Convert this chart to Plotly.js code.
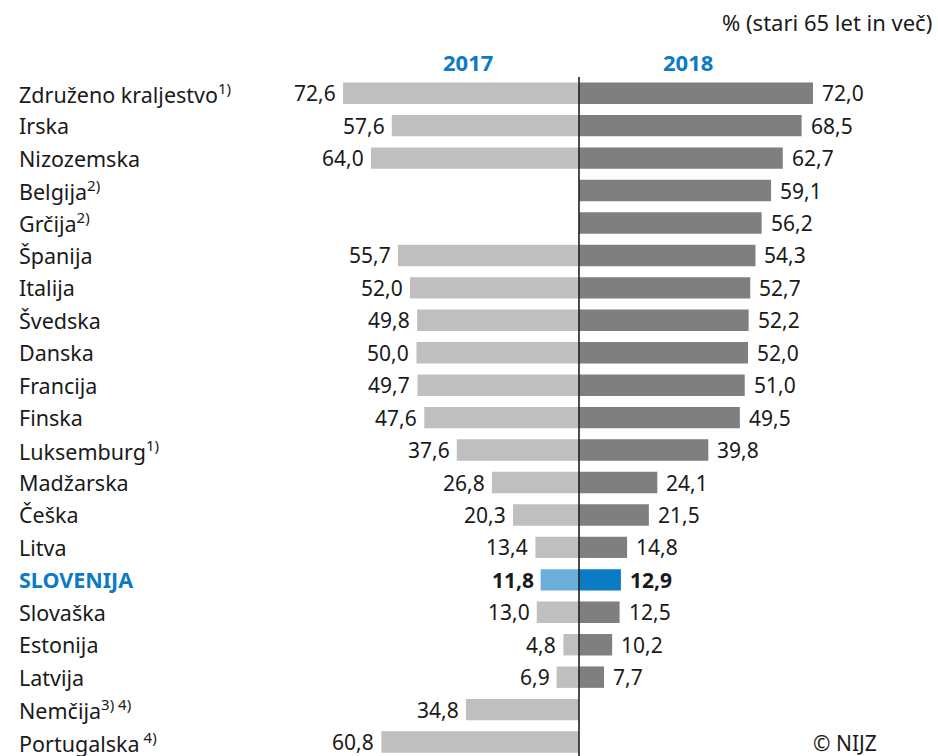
<!DOCTYPE html>
<html>
<head>
<meta charset="utf-8">
<script src="https://cdn.plot.ly/plotly-3.0.1.min.js"></script>
<style>html,body{margin:0;padding:0;background:#fff;}#chart{width:938px;height:756px;}</style>
</head>
<body>
<div id="chart"></div>
<script>
const categories = ["Združeno kraljestvo","Irska","Nizozemska","Belgija","Grčija","Španija","Italija","Švedska","Danska","Francija","Finska","Luksemburg","Madžarska","Češka","Litva","SLOVENIJA","Slovaška","Estonija","Latvija","Nemčija","Portugalska"];
const footnotes = ["1)","","","2)","2)","","","","","","","1)","","","","","","","","3) 4)"," 4)"];
const values2017 = [72.6,57.6,64.0,null,null,55.7,52.0,49.8,50.0,49.7,47.6,37.6,26.8,20.3,13.4,11.8,13.0,4.8,6.9,34.8,60.8];
const values2018 = [72.0,68.5,62.7,59.1,56.2,54.3,52.7,52.2,52.0,51.0,49.5,39.8,24.1,21.5,14.8,12.9,12.5,10.2,7.7,null,null];
const highlight = "SLOVENIJA";
const yearLabels = ["2017","2018"];
const unitLabel = "% (stari 65 let in več)";
const sourceLabel = "© NIJZ";

const FONT = "'Noto Sans', 'Open Sans', sans-serif";
const FS_LAB = 21.5;
const FS_VAL = 21;
const fmt = v => v.toFixed(1).replace('.', ',');

const c17 = categories.map(c => c === highlight ? "#6aafda" : "#bfbfbf");
const c18 = categories.map(c => c === highlight ? "#0a7bc4" : "#7f7f7f");

const traces = [
  {type:"bar", orientation:"h", y:categories, x:values2017.map(v => v == null ? null : -v),
   marker:{color:c17}, hoverinfo:"skip", name:yearLabels[0]},
  {type:"bar", orientation:"h", y:categories, x:values2018,
   marker:{color:c18}, hoverinfo:"skip", name:yearLabels[1]}
];

const ann = [];
categories.forEach((c, i) => {
  const hl = c === highlight;
  ann.push({xref:"paper", yref:"y", x:(17-250)/630, y:c, xanchor:"left", yanchor:"middle", showarrow:false,
    text: hl ? "<b>"+c+"</b>" : c + (footnotes[i] ? "<sup>"+footnotes[i]+"</sup>" : ""),
    font:{family:FONT, size:FS_LAB, color: hl ? "#0a7bc4" : "#1a1a1a"}});
  if (values2017[i] != null) ann.push({xref:"x", yref:"y", x:-values2017[i], y:c, xanchor:"right", yanchor:"middle",
    showarrow:false, xshift:-5, text: hl ? "<b>"+fmt(values2017[i])+"</b>" : fmt(values2017[i]),
    font:{family:FONT, size:FS_VAL, color:"#1a1a1a"}});
  if (values2018[i] != null) ann.push({xref:"x", yref:"y", x:values2018[i], y:c, xanchor:"left", yanchor:"middle",
    showarrow:false, xshift:7, text: hl ? "<b>"+fmt(values2018[i])+"</b>" : fmt(values2018[i]),
    font:{family:FONT, size:FS_VAL, color:"#1a1a1a"}});
});
ann.push({xref:"paper", yref:"paper", x:(468-250)/630, y:1, yshift:15, xanchor:"center", yanchor:"middle", showarrow:false,
  text:"<b>"+yearLabels[0]+"</b>", font:{family:FONT, size:22, color:"#0a7bc4"}});
ann.push({xref:"paper", yref:"paper", x:(688-250)/630, y:1, yshift:15, xanchor:"center", yanchor:"middle", showarrow:false,
  text:"<b>"+yearLabels[1]+"</b>", font:{family:FONT, size:22, color:"#0a7bc4"}});
ann.push({xref:"paper", yref:"paper", x:(934-250)/630, y:1, yshift:55, xanchor:"right", yanchor:"middle", showarrow:false,
  text:unitLabel, font:{family:FONT, size:22, color:"#1a1a1a"}});
ann.push({xref:"paper", yref:"paper", x:(879-250)/630, y:0, yshift:13, xanchor:"right", yanchor:"middle", showarrow:false,
  text:sourceLabel, font:{family:FONT, size:21, color:"#1a1a1a"}});

const layout = {
  width:938, height:756,
  margin:{l:250, r:58, t:77, b:0, pad:0},
  paper_bgcolor:"#fff", plot_bgcolor:"#fff",
  barmode:"overlay", bargap:0.34,
  showlegend:false,
  xaxis:{range:[-101.23, 92.62], visible:false, fixedrange:true},
  yaxis:{type:"category", range:[20.43, -0.5], showticklabels:false, showgrid:false, zeroline:false, showline:false, ticks:"", fixedrange:true},
  shapes:[{type:"line", xref:"x", yref:"paper", x0:0, x1:0, y0:0, y1:1, line:{color:"#222", width:1.6}}],
  annotations:ann
};
Plotly.newPlot("chart", traces, layout, {displayModeBar:false, staticPlot:true});
</script>
</body>
</html>
